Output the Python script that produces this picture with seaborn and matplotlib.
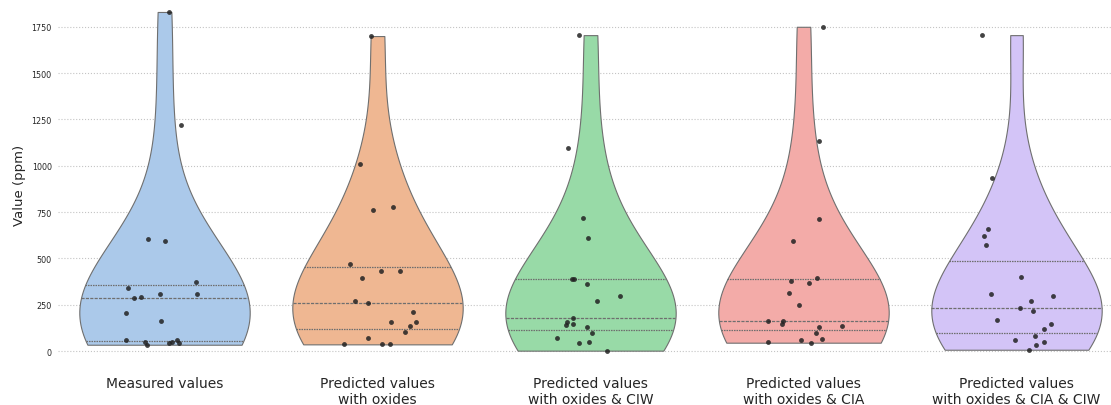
import numpy as np
import pandas as pd
import matplotlib
matplotlib.use("Agg")
import matplotlib.pyplot as plt
import seaborn as sns

# =============================================================================
# DATA (ppm)
# =============================================================================
CATEGORIES = [
    "Measured values",
    "Predicted values\nwith oxides",
    "Predicted values\nwith oxides & CIW",
    "Predicted values\nwith oxides & CIA",
    "Predicted values\nwith oxides & CIA & CIW",
]

measured = [1830, 1220, 605, 594, 374, 310, 286, 292, 339, 308,
            205, 164, 59, 34, 41, 50, 61, 43, 49]
pred_oxides = [1700, 1010, 779, 763, 470, 432, 434, 396, 272, 259,
               211, 155, 158, 133, 104, 70, 36, 36, 36]
pred_ciw = [1705, 1096, 718, 609, 389, 389, 362, 299, 272, 177,
            146, 128, 155, 140, 96, 69, 47, 43, 2]
pred_cia = [1750, 1134, 713, 596, 396, 380, 367, 313, 248, 164,
            164, 135, 148, 128, 96, 65, 61, 45, 47]
pred_cia_ciw = [1705, 933, 659, 623, 571, 400, 310, 297, 272, 232,
                216, 166, 148, 117, 83, 59, 49, 31, 7]

SERIES = [measured, pred_oxides, pred_ciw, pred_cia, pred_cia_ciw]

df = pd.DataFrame({
    "group": np.repeat(CATEGORIES, [len(s) for s in SERIES]),
    "value": np.concatenate(SERIES),
})

# =============================================================================
# PLOT
# =============================================================================
sns.set_style("white")
np.random.seed(3)

W, H = 1111, 406
fig = plt.figure(figsize=(W / 100, H / 100), dpi=100)
ax = fig.add_axes([58 / W, (H - 370) / H, 1065 / W, 370 / H])

sns.violinplot(data=df, x="group", y="value", hue="group", order=CATEGORIES,
               palette="pastel", inner="quart", cut=0, linewidth=0.8,
               bw_adjust=1.35, inner_kws={"linewidth": 0.9},
               legend=False, ax=ax)
sns.stripplot(data=df, x="group", y="value", order=CATEGORIES,
              color="#222222", size=3.5, alpha=0.85, jitter=0.19, ax=ax)

ax.set_xlim(-0.5, 4.5)
ax.set_ylim(-97, 1900)
ax.set_yticks(np.arange(0, 1751, 250))
ax.yaxis.grid(True, linestyle=":", color="#c4c4c4", linewidth=0.8)
ax.set_axisbelow(True)

ax.set_xlabel("")
ax.set_ylabel("Value (ppm)", fontsize=9.5)
ax.tick_params(axis="y", labelsize=5.8, length=2.5, width=0.6, color="#555555", pad=2)
ax.tick_params(axis="x", labelsize=10, length=2, width=0.5, color="#cccccc", pad=3)
sns.despine(ax=ax, left=True, bottom=True)

fig.savefig("out.png", dpi=100)
